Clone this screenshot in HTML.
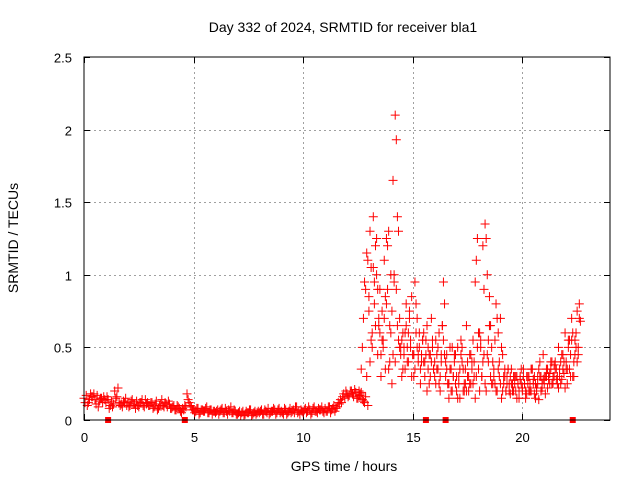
<!DOCTYPE html>
<html><head><meta charset="utf-8">
<style>
html,body{margin:0;padding:0;background:#fff;}
svg{display:block;font-family:"Liberation Sans",sans-serif;}
</style></head>
<body>
<svg id="chart" width="640" height="480" viewBox="0 0 640 480" xmlns="http://www.w3.org/2000/svg">
<rect width="640" height="480" fill="#fff"/>
<text x="343" y="32" font-size="14" text-anchor="middle" fill="#000">Day 332 of 2024, SRMTID for receiver bla1</text>
<text x="344" y="471" font-size="14" text-anchor="middle" fill="#000">GPS time / hours</text>
<text x="18" y="238" font-size="14" text-anchor="middle" fill="#000" transform="rotate(-90 18 238)">SRMTID / TECUs</text>
<g id="grid"></g>
<g id="ticks"></g>
<g id="points"></g>
<rect x="84" y="57" width="526" height="363" fill="none" stroke="#000" stroke-width="1"/>
</svg>
<script>
const xTicks=[0,5,10,15,20];
const yTicks=[0,0.5,1,1.5,2,2.5];
const yTickLabels=["0","0.5","1","1.5","2","2.5"];
const startA=0, stepA=0.1;
const valsA=[.15,.17,.12,.18,.16,.14,.17,.13,.15,.16,
.12,.14,.10,.09,.20,.16,.12,.11,.13,.15,
.12,.10,.14,.11,.13,.09,.12,.10,.14,.12,
.10,.12,.09,.13,.08,.11,.10,.12,.09,.11,
.08,.10,.07,.09,.06,.08,.10,.18,.12,.09,
.07,.06,.08,.05,.07,.06,.09,.05,.07,.06,
.05,.07,.06,.08,.05,.06,.07,.09,.05,.06,
.04,.06,.05,.03,.06,.05,.07,.04,.06,.05,
.05,.07,.04,.06,.08,.05,.06,.07,.05,.08,
.06,.04,.07,.05,.08,.06,.05,.09,.06,.07,
.05,.08,.06,.07,.05,.09,.06,.08,.07,.06,
.08,.06,.09,.07,.10,.08,.12,.14,.16,.15,
.18,.17,.20,.16,.19,.15,.17,.14,.12,.30,
.85,1.05,1.40,1.20,.90,.60,.75,1.10,.80,1.30,
1.00,1.65,2.10,1.40,.70,.55,.45,.80,.60,.50,
.45,.95,.70,.50,.40,.60,.55,.35,.45,.50,
.30,.45,.60,.40,.95,.30,.25,.50,.20,.40,
.20,.30,.55,.35,.25,.30,.45,.35,.40,.30,
.35,.55,1.20,1.35,1.00,.85,.50,.35,.80,.60,
.70,.45,.35,.30,.25,.35,.20,.30,.25,.28,
.22,.25,.18,.30,.20,.28,.15,.25,.30,.22,
.25,.30,.28,.35,.25,.40,.30,.35,.28,.32,
.40,.55,.30,.60,.45,.75,.80];
const startB=0.05, stepB=0.1;
const valsB=[.12,.10,.14,.16,.18,.11,.09,.15,.12,.14,
.16,.08,.13,.11,.15,.22,.10,.09,.12,.10,
.09,.13,.11,.08,.10,.12,.14,.09,.11,.10,
.12,.08,.11,.07,.10,.14,.09,.11,.13,.08,
.09,.07,.10,.08,.05,.07,.09,.14,.10,.07,
.05,.08,.04,.07,.06,.08,.05,.07,.04,.06,
.06,.04,.07,.05,.08,.04,.06,.05,.07,.04,
.05,.03,.06,.04,.05,.07,.03,.05,.04,.06,
.06,.04,.07,.05,.04,.06,.08,.04,.07,.05,
.05,.08,.04,.06,.05,.07,.09,.05,.04,.06,
.07,.05,.09,.04,.08,.06,.05,.07,.09,.05,
.06,.09,.05,.08,.06,.09,.11,.12,.18,.20,
.16,.20,.18,.21,.15,.17,.19,.13,.16,.10,
.40,.60,.95,1.25,.70,.45,.55,.35,.90,.65,
.75,.95,1.93,1.30,.50,.35,.60,.40,.70,.85,
.30,.80,.45,.35,.55,.30,.65,.25,.40,.35,
.55,.35,.20,.65,.80,.45,.15,.35,.30,.25,
.50,.15,.40,.20,.65,.20,.25,.55,.15,.50,
.20,.30,.90,1.25,.40,.65,.25,.55,.70,.40,
.50,.30,.20,.35,.18,.25,.30,.15,.20,.35,
.30,.15,.25,.20,.35,.18,.22,.14,.20,.28,
.18,.22,.32,.25,.38,.28,.22,.40,.35,.22,
.25,.35,.55,.30,.60,.50,.68];
const startC=12.55, stepC=0.1;
const valsC=[.20,.35,.70,.90,1.10,1.30,.50,.80,1.00,.65,
.30,.50,.85,1.20,.40,.25,1.00,.90,.55,.45,
.60,.35,.50,.75,.30,.45,.60,.40,.25,.55,
.40,.20,.45,.70,.35,.25,.50,.30,.65,.45,
.35,.25,.20,.30,.45,.15,.35,.50,.25,.20,
.30,.45,.25,.95,1.25,.60,.30,.45,.20,.55,
.30,.40,.25,.20,.30,.15,.25,.20,.35,.30,
.20,.25,.30,.15,.25,.35,.20,.30,.25,.35,
.30,.20,.35,.30,.45,.30,.35,.25,.40,.30,
.35,.50,.25,.45,.60,.35,.55,.70,.40,.50,
.45];
const startD=12.6, stepD=0.1;
const valsD=[.18,.50,.95,1.15,.75,.55,1.05,.65,.45,.90,
.55,.70,1.25,.35,.60,.45,.40,.65,.50,.30,
.50,.65,.40,.55,.45,.35,.50,.60,.45,.40,
.45,.50,.30,.55,.40,.35,.25,.45,.55,.40,
.25,.35,.50,.45,.30,.25,.45,.20,.35,.40,
.25,.40,.30,1.10,.60,.50,.40,.25,.45,.65,
.25,.30,.20,.35,.25,.20,.30,.25,.20,.25,
.30,.20,.25,.30,.20,.25,.30,.20,.35,.25,
.25,.30,.40,.25,.30,.35,.30,.40,.30,.35,
.25,.30,.45,.40,.35,.50,.45,.30,.55,.40,
.70];
const zeroTimes=[1.1,4.6,15.6,16.5,22.3];

const X0=84,X1=610,Y0=420,Y1=57,XMAX=24,YMAX=2.5;
const xs=t=>X0+(X1-X0)*t/XMAX;
const ys=v=>Y0-(Y0-Y1)*v/YMAX;
const NS='http://www.w3.org/2000/svg';
const grid=document.getElementById('grid'),ticks=document.getElementById('ticks'),pts=document.getElementById('points');
function line(par,x1,y1,x2,y2,st,dash){const l=document.createElementNS(NS,'line');l.setAttribute('x1',x1);l.setAttribute('y1',y1);l.setAttribute('x2',x2);l.setAttribute('y2',y2);l.setAttribute('stroke',st);if(dash)l.setAttribute('stroke-dasharray',dash);par.appendChild(l);return l;}
xTicks.forEach(t=>{
 const x=Math.round(xs(t))+0.5;
 if(t>0){const g=line(grid,x,Y1,x,Y0,'#a0a0a0','2,3');
 
 }
 line(ticks,x,Y0,x,Y0-6,'#000');line(ticks,x,Y1,x,Y1+6,'#000');
 const tx=document.createElementNS(NS,'text');tx.setAttribute('x',x);tx.setAttribute('y',442);tx.setAttribute('font-size','13');tx.setAttribute('text-anchor','middle');tx.textContent=t;
 
 
 ticks.appendChild(tx);
});
yTicks.forEach((v,i)=>{
 const y=Math.round(ys(v))+0.5;
 if(v>0&&v<YMAX){const g=line(grid,X0,y,X1,y,'#a0a0a0','2,3');
 
 }
 line(ticks,X0,y,X0+6,y,'#000');line(ticks,X1,y,X1-6,y,'#000');
 const tx=document.createElementNS(NS,'text');tx.setAttribute('x',72);tx.setAttribute('y',y+5);tx.setAttribute('font-size','13');tx.setAttribute('text-anchor','end');tx.textContent=yTickLabels[i];
 
 
 ticks.appendChild(tx);
});
function plus(t,v){
 const x=xs(t),y=ys(v);
 const p=document.createElementNS(NS,'path');
 p.setAttribute('d',`M${x-4.5} ${y}H${x+4.5}M${x} ${y-4.5}V${y+4.5}`);
 p.setAttribute('stroke','#ff0000');p.setAttribute('stroke-width','1');p.setAttribute('fill','none');
 
 
 pts.appendChild(p);
}
valsA.forEach((v,i)=>plus(startA+i*stepA,v));
valsB.forEach((v,i)=>plus(startB+i*stepB,v));
valsC.forEach((v,i)=>plus(startC+i*stepC,v));
valsD.forEach((v,i)=>plus(startD+i*stepD,v));
zeroTimes.forEach(t=>{
 const r=document.createElementNS(NS,'rect');
 r.setAttribute('x',xs(t)-3);r.setAttribute('y',Y0-3);r.setAttribute('width',6);r.setAttribute('height',6);r.setAttribute('fill','#ff0000');
 
 
 pts.appendChild(r);
});
</script>
</body></html>
